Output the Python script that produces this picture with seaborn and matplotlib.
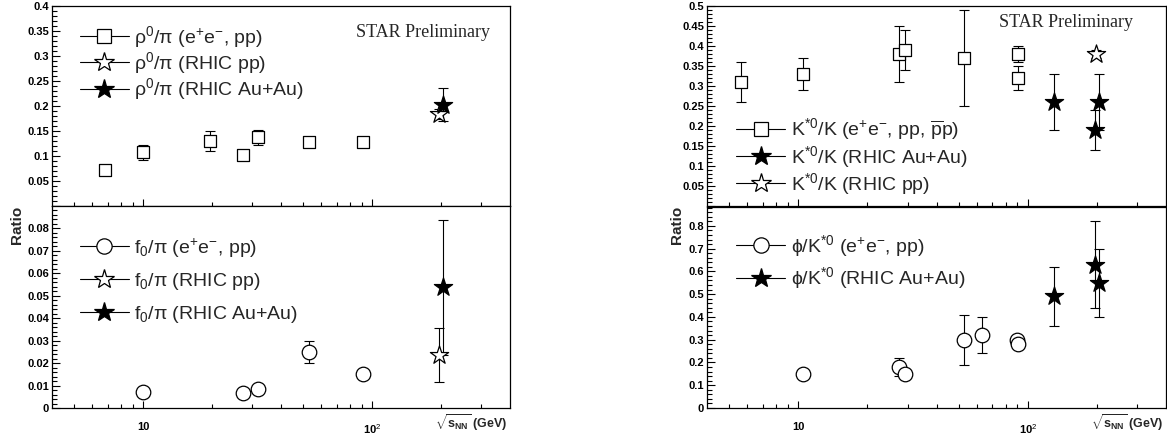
import matplotlib
matplotlib.use('Agg')
import matplotlib.pyplot as plt
from matplotlib.lines import Line2D
from matplotlib.ticker import MultipleLocator, FixedLocator, FuncFormatter, NullFormatter
import seaborn as sns

sns.set_style('white')
plt.rcParams['font.family'] = ['Liberation Sans', 'DejaVu Sans']
plt.rcParams['mathtext.fontset'] = 'custom'
plt.rcParams['mathtext.rm'] = 'Liberation Sans'
plt.rcParams['mathtext.it'] = 'Liberation Sans:italic'
plt.rcParams['mathtext.bf'] = 'Liberation Sans:bold'

# rho0/pi (top left)
rho_ee_x = [6.8, 10, 19.6, 27.4, 31.9, 52.8, 91]
rho_ee_y = [0.072, 0.107, 0.129, 0.101, 0.137, 0.128, 0.128]
rho_ee_err = [0, 0.015, 0.02, 0, 0.015, 0, 0]
rho_pp_x = [196]
rho_pp_y = [0.183]
rho_pp_err = [0.01]
rho_au_x = [203]
rho_au_y = [0.202]
rho_au_err = [0.033]

# f0/pi (bottom left)
f0_ee_x = [10, 27.4, 31.9, 52.8, 91]
f0_ee_y = [0.0072, 0.0067, 0.0084, 0.0248, 0.0151]
f0_ee_err = [0, 0, 0.001, 0.005, 0]
f0_pp_x = [196]
f0_pp_y = [0.0236]
f0_pp_err = [0.012]
f0_au_x = [204]
f0_au_y = [0.0537]
f0_au_err = [0.030]

# K*0/K (top right)
ks_ee_x = [5.6, 10.5, 27.4, 29.1, 52.6, 90.4, 91]
ks_ee_y = [0.31, 0.33, 0.38, 0.39, 0.37, 0.38, 0.32]
ks_ee_err = [0.05, 0.04, 0.07, 0.05, 0.12, 0.02, 0.03]
ks_au_x = [130, 196, 204]
ks_au_y = [0.26, 0.19, 0.26]
ks_au_err = [0.07, 0.05, 0.07]
ks_pp_x = [199]
ks_pp_y = [0.38]
ks_pp_err = [0.01]

# phi/K*0 (bottom right)
phi_ee_x = [10.5, 27.4, 29.1, 52.6, 63, 89.6, 91]
phi_ee_y = [0.15, 0.18, 0.15, 0.30, 0.32, 0.30, 0.28]
phi_ee_err = [0, 0.04, 0, 0.11, 0.08, 0.01, 0.01]
phi_au_x = [130, 196, 204]
phi_au_y = [0.49, 0.63, 0.55]
phi_au_err = [0.13, 0.19, 0.15]

MARKERS = {
    'square': dict(marker='s', face='white', s=75),
    'circle': dict(marker='o', face='white', s=110),
    'ostar': dict(marker='*', face='white', s=190),
    'fstar': dict(marker='*', face='black', s=190),
}


def draw(ax, x, y, err, kind):
    m = MARKERS[kind]
    ax.errorbar(x, y, yerr=err, fmt='none', ecolor='black', elinewidth=0.8,
                capsize=3.5, capthick=0.8, zorder=2)
    sns.scatterplot(x=x, y=y, marker=m['marker'], s=m['s'], color=m['face'],
                    edgecolor='black', linewidth=0.9, ax=ax, zorder=3, legend=False)


def handle(kind):
    m = MARKERS[kind]
    ms = {'s': 9.5, 'o': 11, '*': 15}[m['marker']]
    return Line2D([], [], color='black', lw=0.8, marker=m['marker'], markersize=ms,
                  markerfacecolor=m['face'], markeredgecolor='black', markeredgewidth=0.9)


def style(ax, ylim, major, minor, xlabels, hide_zero=False):
    ax.set_xscale('log')
    ax.set_xlim(4, 400)
    ax.set_ylim(*ylim)
    for sp in ax.spines.values():
        sp.set_visible(True)
        sp.set_color('black')
        sp.set_linewidth(0.9)
    ax.xaxis.set_major_locator(FixedLocator([10, 100]))
    ax.xaxis.set_minor_locator(FixedLocator([5, 6, 7, 8, 9, 20, 30, 40, 50, 60, 70, 80, 90, 200, 300]))
    ax.xaxis.set_minor_formatter(NullFormatter())
    if xlabels:
        ax.xaxis.set_major_formatter(FuncFormatter(lambda v, p: '10' if v < 50 else r'10$^{2}$'))
    else:
        ax.xaxis.set_major_formatter(NullFormatter())
    ax.yaxis.set_major_locator(MultipleLocator(major))
    ax.yaxis.set_minor_locator(MultipleLocator(minor))

    def yfmt(v, p):
        if hide_zero and abs(v) < 1e-9:
            return ''
        return f'{round(v, 4):g}'
    ax.yaxis.set_major_formatter(FuncFormatter(yfmt))
    ax.tick_params(axis='both', which='both', direction='in', bottom=True, left=True,
                   top=False, right=False, colors='black', width=0.8)
    ax.tick_params(axis='y', which='major', length=6, pad=2, labelsize=8)
    ax.tick_params(axis='y', which='minor', length=3.5)
    ax.tick_params(axis='x', which='major', length=5, pad=10, labelsize=8)
    ax.tick_params(axis='x', which='minor', length=3)
    for lab in ax.get_xticklabels() + ax.get_yticklabels():
        lab.set_fontweight('bold')
    ax.set_xlabel('')
    ax.set_ylabel('')


def legend(ax, kinds, labels, anchor, spacing):
    ax.legend([handle(k) for k in kinds], labels, loc='upper left', bbox_to_anchor=anchor,
              frameon=False, fontsize=14, handlelength=2.5, handletextpad=0.3,
              labelspacing=spacing, borderaxespad=0, borderpad=0)


W, H = 1167, 436
fig = plt.figure(figsize=(W / 100, H / 100), dpi=100)


def box(x0, x1, y0, y1):
    return [x0 / W, 1 - y1 / H, (x1 - x0) / W, (y1 - y0) / H]


ax_tl = fig.add_axes(box(52, 510, 6, 206))
ax_bl = fig.add_axes(box(52, 510, 206, 408))
ax_tr = fig.add_axes(box(707, 1166, 6, 206.5))
ax_br = fig.add_axes(box(707, 1166, 206.5, 408))

# top left
draw(ax_tl, rho_ee_x, rho_ee_y, rho_ee_err, 'square')
draw(ax_tl, rho_pp_x, rho_pp_y, rho_pp_err, 'ostar')
draw(ax_tl, rho_au_x, rho_au_y, rho_au_err, 'fstar')
style(ax_tl, (0, 0.4), 0.05, 0.01, False, hide_zero=True)
legend(ax_tl, ['square', 'ostar', 'fstar'],
       [r'ρ$^{0}$/π (e$^{+}$e$^{-}$, pp)', r'ρ$^{0}$/π (RHIC pp)', r'ρ$^{0}$/π (RHIC Au+Au)'],
       (0.061, 0.91), 0.02)
ax_tl.text(0.956, 0.865, 'STAR Preliminary', transform=ax_tl.transAxes, ha='right', va='center',
           fontsize=13, family='Liberation Serif')

# bottom left
draw(ax_bl, f0_ee_x, f0_ee_y, f0_ee_err, 'circle')
draw(ax_bl, f0_pp_x, f0_pp_y, f0_pp_err, 'ostar')
draw(ax_bl, f0_au_x, f0_au_y, f0_au_err, 'fstar')
style(ax_bl, (0, 0.0898), 0.01, 0.002, True)
legend(ax_bl, ['circle', 'ostar', 'fstar'],
       [r'f$_{0}$/π (e$^{+}$e$^{-}$, pp)', r'f$_{0}$/π (RHIC pp)', r'f$_{0}$/π (RHIC Au+Au)'],
       (0.061, 0.85), 0.6)

# top right
draw(ax_tr, ks_ee_x, ks_ee_y, ks_ee_err, 'square')
draw(ax_tr, ks_pp_x, ks_pp_y, ks_pp_err, 'ostar')
draw(ax_tr, ks_au_x, ks_au_y, ks_au_err, 'fstar')
style(ax_tr, (0, 0.5), 0.05, 0.01, False, hide_zero=True)
legend(ax_tr, ['square', 'fstar', 'ostar'],
       [r'K$^{*0}$/K (e$^{+}$e$^{-}$, pp, $\overline{\mathrm{p}}$p)', r'K$^{*0}$/K (RHIC Au+Au)',
        r'K$^{*0}$/K (RHIC pp)'],
       (0.064, 0.45), 0.05)
ax_tr.text(0.929, 0.917, 'STAR Preliminary', transform=ax_tr.transAxes, ha='right', va='center',
           fontsize=13, family='Liberation Serif')

# bottom right
draw(ax_br, phi_ee_x, phi_ee_y, phi_ee_err, 'circle')
draw(ax_br, phi_au_x, phi_au_y, phi_au_err, 'fstar')
style(ax_br, (0, 0.885), 0.1, 0.02, True)
legend(ax_br, ['circle', 'fstar'],
       [r'ϕ/K$^{*0}$ (e$^{+}$e$^{-}$, pp)', r'ϕ/K$^{*0}$ (RHIC Au+Au)'],
       (0.064, 0.87), 0.35)

# axis titles
for xr in (17, 677):
    fig.text(xr / W, 1 - 225 / H, 'Ratio', rotation=90, ha='center', va='center',
             fontsize=11, fontweight='bold')
for xr in (507, 1163):
    fig.text(xr / W, 1 - 423 / H, r'$\mathbf{\sqrt{s_{NN}}}$ (GeV)', ha='right', va='center',
             fontsize=9, fontweight='bold')

fig.savefig('out.png', dpi=100)
